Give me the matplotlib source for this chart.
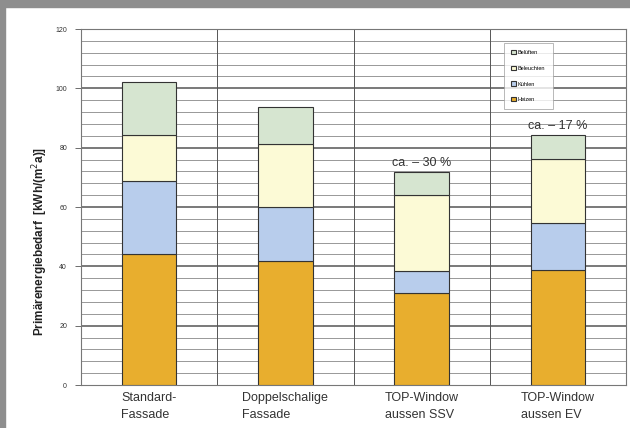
import matplotlib.pyplot as plt
import matplotlib.patches as mpatches
import numpy as np

# Daten
kategorien = ['Standard-\nFassade', 'Doppelschalige\nFassade', 'TOP-Window\naussen SSV', 'TOP-Window\naussen EV']
heizen = [44.2, 41.8, 31.0, 38.8]
kuehlen = [24.6, 18.2, 7.4, 15.8]
beleuchten = [15.5, 21.2, 25.6, 21.6]
belueften = [17.8, 12.5, 7.9, 8.1]
anmerkungen = ['', '', 'ca. \u2013 30 %', 'ca. \u2013 17 %']

farben = {'Heizen': '#E8AE2E', 'Kühlen': '#B8CDEC', 'Beleuchten': '#FCFAD6', 'Belüften': '#D6E5D0'}

plt.rcParams['font.family'] = ['Liberation Sans', 'DejaVu Sans']

fig = plt.figure(figsize=(6.3, 4.28), dpi=100)
ax = fig.add_axes([81 / 630, 1 - 385 / 428, 545 / 630, 356 / 428])

# grauer Rahmen oben und links
fig.patches.append(mpatches.Rectangle((0, 1 - 7 / 428), 1, 7 / 428, transform=fig.transFigure,
                                      color='#8e8e8e', zorder=0))
fig.patches.append(mpatches.Rectangle((0, 0), 5 / 630, 1, transform=fig.transFigure,
                                      color='#8e8e8e', zorder=0))

x = np.arange(len(kategorien))
breite = 0.4
unten = np.zeros(len(kategorien))
for name, werte in [('Heizen', heizen), ('Kühlen', kuehlen), ('Beleuchten', beleuchten), ('Belüften', belueften)]:
    ax.bar(x, werte, breite, bottom=unten, color=farben[name], edgecolor='#333333', linewidth=0.8,
           label=name, zorder=3)
    unten += np.array(werte)

for i, txt in enumerate(anmerkungen):
    if txt:
        ax.text(x[i], unten[i] + 1.0, txt, ha='center', va='bottom', fontsize=9, color='#333333', zorder=4)

# Gitter
ax.set_ylim(0, 120)
ax.set_xlim(-0.5, len(kategorien) - 0.5)
for y in range(4, 120, 4):
    if y % 20 == 0:
        ax.axhline(y, color='#555555', linewidth=1.1, zorder=1)
    else:
        ax.axhline(y, color='#888888', linewidth=0.6, zorder=1)
for b in range(1, len(kategorien)):
    ax.axvline(b - 0.5, color='#555555', linewidth=0.7, zorder=1)

ax.set_yticks(range(0, 121, 20))
ax.tick_params(axis='y', labelsize=5, length=4, width=0.6, color='#555555', labelcolor='#333333', pad=6)
ax.set_xticks(x)
ax.set_xticklabels(kategorien, fontsize=9, color='#333333', ha='center', multialignment='left',
                   linespacing=1.55)
ax.tick_params(axis='x', length=0, pad=5)

for s in ax.spines.values():
    s.set_color('#777777')
    s.set_linewidth(0.8)

ax.set_ylabel('Primärenergiebedarf  [kWh/(m$^{2}$a)]', fontsize=8.5, fontweight='bold', color='#222222')
ax.yaxis.set_label_coords(-0.057, 0.404)

handles, labels = ax.get_legend_handles_labels()
leg = ax.legend(handles[::-1], labels[::-1], loc='upper left', bbox_to_anchor=(423 / 545, 1 - 14 / 356),
                fontsize=4, frameon=True, fancybox=False, edgecolor='#999999', handlelength=0.8,
                handleheight=0.8, labelspacing=1.9, borderpad=1.3, handletextpad=0.4, borderaxespad=0)
leg.get_frame().set_linewidth(0.6)
leg.set_zorder(5)

plt.savefig('out.png', dpi=100)
